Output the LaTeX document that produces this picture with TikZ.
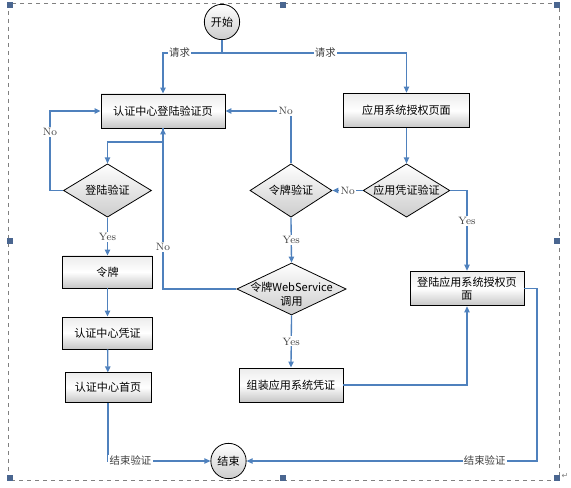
\documentclass[tikz,border=0pt]{standalone}
\usepackage{fontspec}
\usepackage{tikz}
\usetikzlibrary{arrows.meta}
\usetikzlibrary{shapes.geometric}
\newfontfamily\cjk{Noto Sans CJK SC}
\newfontfamily\symfont{DejaVu Sans}
\definecolor{lblue}{RGB}{79, 129, 189}
\definecolor{hblue}{RGB}{74, 102, 144}
\definecolor{lgray}{RGB}{64, 64, 64}
\tikzset{
  proc/.style = {draw, line width = 0.7pt, rectangle, inner sep = 0, align = center,
    top color = gray!15, bottom color = gray!45, middle color = white,
    font = \cjk\fontsize{8.3}{10}\selectfont},
  decision/.style = {draw, line width = 0.6pt, diamond, inner sep = 0,
    top color = white, bottom color = gray!40},
  dtext/.style = {inner sep = 0, align = center,
    font = \cjk\fontsize{8.3}{10}\selectfont},
  term/.style = {draw, line width = 0.6pt, circle, inner sep = 0, minimum size = 26.5pt,
    top color = white, bottom color = gray!40,
    font = \cjk\fontsize{8.3}{10}\selectfont},
  arr/.style = {lblue, line width = 1pt, -{Triangle[length = 4.5pt, width = 4pt]}},
  conn/.style = {lblue, line width = 1pt},
  lbl/.style = {fill = white, inner sep = 1pt, text = lgray, font = \fontsize{8}{9}\selectfont},
  clbl/.style = {lbl, font = \cjk\fontsize{7.8}{9}\selectfont},
  handle/.style = {fill = hblue, inner sep = 0, minimum size = 3.8pt}
}

\begin{document}
\begin{tikzpicture}[x = 0.75pt, y = -0.75pt]
  \useasboundingbox (0, 0) rectangle (571, 488);

  % frame
  \draw [gray, dashed, line width = 0.4pt] (8, 3) rectangle (559, 480);
  \foreach \hx/\hy in {10/5, 283/5, 557/5, 10/241, 557/241, 10/478, 283/478, 557/478}
    \node [handle] at (\hx, \hy) {};
  \node [text = gray, inner sep = 0, font = \symfont\fontsize{6}{6}\selectfont] (ret) at (565, 476) {↵};

  % nodes
  \node [term] (start) at (222, 22) {开始};
  \node [term] (end) at (228.5, 461) {结束};

  \node [proc, minimum width = 93pt, minimum height = 25.5pt] (lp) at (163, 111) {认证中心登陆验证页};
  \node [proc, minimum width = 94pt, minimum height = 26pt] (ap) at (406.5, 110.5) {应用系统授权页面};
  \node [proc, minimum width = 67pt, minimum height = 24pt] (tk) at (107.5, 272) {令牌};
  \node [proc, minimum width = 67pt, minimum height = 24pt] (cc) at (107.5, 333) {认证中心凭证};
  \node [proc, minimum width = 64.5pt, minimum height = 22pt] (hp) at (108, 387.5) {认证中心首页};
  \node [proc, minimum width = 78pt, minimum height = 25.5pt] (as) at (291, 385) {组装应用系统凭证};
  \node [proc, minimum width = 85.5pt, minimum height = 26pt] (la) at (467, 288.5) {登陆应用系统授权页\\面};

  \node [decision, minimum width = 66pt, minimum height = 40pt,
    label = {[dtext]center:登陆验证}] (lc) at (107.5, 190.5) {};
  \node [decision, minimum width = 61.5pt, minimum height = 40pt,
    label = {[dtext]center:令牌验证}] (tv) at (291, 190.5) {};
  \node [decision, minimum width = 65pt, minimum height = 40pt,
    label = {[dtext]center:应用凭证验证}] (ac) at (406.5, 190.5) {};
  \node [decision, minimum width = 82pt, minimum height = 39pt,
    label = {[dtext, yshift = -4pt]center:令牌WebService\\调用}] (ws) at (291.5, 289) {};

  \coordinate (fork) at (222, 53);
  \coordinate (lpdn) at (163, 142);
  \coordinate (lcno) at (50, 190.5);
  \coordinate (rend) at (537, 461);

  % connectors
  \draw [conn] (start) -- (fork);
  \draw [arr] (fork) -| node [clbl, pos = 0.36] {请求} (lp.north);
  \draw [arr] (fork) -| node [clbl, pos = 0.28] {请求} (ap.north);

  \draw [arr] (lp.south) -- (lpdn) -| (lc.north);
  \draw [arr] (lc.west) -- (lcno) |- node [lbl, pos = 0.37] {No} (lp.west);
  \draw [arr] (lc.south) -- node [lbl] {Yes} (tk.north);
  \draw [arr] (tk) -- (cc);
  \draw [arr] (cc) -- (hp);
  \draw [arr] (hp.south) |- node [clbl, pos = 0.61] {结束验证} (end.west);

  \draw [arr] (ap) -- (ac.north);
  \draw [arr] (ac.west) -- node [lbl] {No} (tv.east);
  \draw [arr] (tv.north) |- node [lbl, pos = 0.54] {No} (lp.east);
  \draw [arr] (tv.south) -- node [lbl] {Yes} (ws.north);
  \draw [arr] (ws.west) -| node [lbl, pos = 0.63] {No} (lp.south);
  \draw [arr] (ws.south) -- node [lbl] {Yes} (as.north);
  \draw [arr] (as.east) -| (la.south);
  \draw [arr] (ac.east) -| node [lbl, pos = 0.69] {Yes} (la.north);
  \draw [arr] (la.east) -| (rend) -- node [clbl, pos = 0.18] {结束验证} (end.east);
\end{tikzpicture}
\end{document}
